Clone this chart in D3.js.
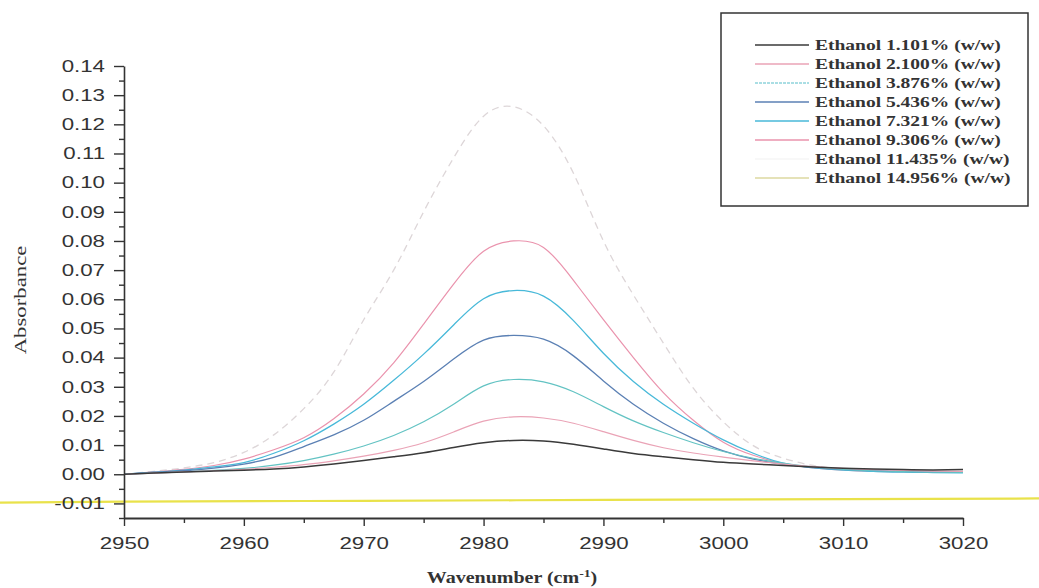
<!DOCTYPE html>
<html><head><meta charset="utf-8">
<script src="https://cdn.jsdelivr.net/npm/d3@7"></script>
<style>
html,body{margin:0;padding:0;background:#fff;}
svg{display:block;}
</style></head>
<body>
<svg id="chart" width="1039" height="588"></svg>
<script>
// ---------- DATA ----------
const wavenumbers = [2950,2952.5,2955,2957.5,2960,2962.5,2965,2967.5,2970,2972.5,2975,2977.5,2980,2982.5,2985,2987.5,2990,2992.5,2995,2997.5,3000,3002.5,3005,3007.5,3010,3012.5,3015,3017.5,3020];
const ethanol1101 = [0.0000,0.0004,0.0008,0.0011,0.0014,0.0018,0.0025,0.0035,0.0047,0.0060,0.0074,0.0092,0.0108,0.0116,0.0114,0.0103,0.0087,0.0071,0.0060,0.0050,0.0041,0.0035,0.0030,0.0025,0.0021,0.0018,0.0016,0.0015,0.0016];
const ethanol2100 = [0.0000,0.0004,0.0008,0.0012,0.0017,0.0024,0.0033,0.0046,0.0062,0.0082,0.0108,0.0145,0.0182,0.0197,0.0193,0.0175,0.0146,0.0116,0.0091,0.0073,0.0059,0.0046,0.0035,0.0026,0.0020,0.0016,0.0013,0.0011,0.0010];
const ethanol3876 = [0.0000,0.0004,0.0008,0.0013,0.0020,0.0031,0.0047,0.0069,0.0097,0.0133,0.0180,0.0240,0.0303,0.0325,0.0317,0.0283,0.0232,0.0183,0.0143,0.0108,0.0078,0.0055,0.0038,0.0025,0.0017,0.0012,0.0009,0.0007,0.0006];
const ethanol5436 = [0.0000,0.0006,0.0012,0.0021,0.0035,0.0058,0.0095,0.0135,0.0185,0.0250,0.0318,0.0395,0.0460,0.0476,0.0463,0.0406,0.0320,0.0240,0.0175,0.0122,0.0080,0.0052,0.0035,0.0024,0.0017,0.0013,0.0010,0.0008,0.0007];
const ethanol7321 = [0.0000,0.0007,0.0014,0.0025,0.0040,0.0072,0.0115,0.0172,0.0240,0.0322,0.0412,0.0512,0.0602,0.0630,0.0611,0.0527,0.0415,0.0318,0.0240,0.0175,0.0118,0.0072,0.0038,0.0022,0.0014,0.0010,0.0007,0.0006,0.0005];
const ethanol9306 = [0.0000,0.0008,0.0017,0.0030,0.0052,0.0084,0.0125,0.0190,0.0275,0.0382,0.0515,0.0652,0.0765,0.0800,0.0778,0.0665,0.0530,0.0400,0.0280,0.0185,0.0110,0.0065,0.0037,0.0022,0.0014,0.0010,0.0008,0.0007,0.0006];
const ethanol11435 = [0.0000,0.0010,0.0022,0.0040,0.0075,0.0135,0.0225,0.0350,0.0530,0.0700,0.0900,0.1085,0.1228,0.1260,0.1195,0.1032,0.0800,0.0615,0.0450,0.0295,0.0180,0.0098,0.0055,0.0030,0.0018,0.0012,0.0010,0.0008,0.0007];
const baselineWavenumbers = [2939.5,2950,2970,2990,3010,3026.5];
const ethanol14956 = [-0.0097,-0.0094,-0.0091,-0.0088,-0.0085,-0.0083];
const seriesLabels = ["Ethanol 1.101% (w/w)","Ethanol 2.100% (w/w)","Ethanol 3.876% (w/w)","Ethanol 5.436% (w/w)","Ethanol 7.321% (w/w)","Ethanol 9.306% (w/w)","Ethanol 11.435% (w/w)","Ethanol 14.956% (w/w)"];
const yTickValues = [-0.01,0.00,0.01,0.02,0.03,0.04,0.05,0.06,0.07,0.08,0.09,0.10,0.11,0.12,0.13,0.14];
const xTickValues = [2950,2960,2970,2980,2990,3000,3010,3020];

// ---------- STYLES ----------
const styles = [
  {color:"#3a3a3a", width:1.5, dash:null, legendColor:"#3a3a3a"},
  {color:"#eaa3b6", width:1.2, dash:null, legendColor:"#eaa3b6"},
  {color:"#63c3c3", width:1.2, dash:null, legendColor:"#8fd3dc"},
  {color:"#5b80b4", width:1.3, dash:null, legendColor:"#5b80b4"},
  {color:"#48b9d9", width:1.3, dash:null, legendColor:"#48b9d9"},
  {color:"#ea93ad", width:1.2, dash:null, legendColor:"#ea93ad"},
  {color:"#ddd6d8", width:1.3, dash:"7,5", legendColor:"#f6f6f6"},
  {color:"#e9e24a", width:2.2, dash:null, legendColor:"#ddd9a0"}
];

const seriesData = [ethanol1101,ethanol2100,ethanol3876,ethanol5436,ethanol7321,ethanol9306,ethanol11435]
  .map(vals => vals.map((v,i)=>({x:wavenumbers[i], y:v})));
const yellowData = ethanol14956.map((v,i)=>({x:baselineWavenumbers[i], y:v}));

// ---------- CHART ----------
const svg = d3.select("#chart");
const x = d3.scaleLinear().domain([2950,3020]).range([124,963]);
const y = d3.scaleLinear().domain([-0.015,0.14]).range([518,66]);
function stretch(sel, f){
  sel.each(function(){
    const w = this.getComputedTextLength();
    d3.select(this).attr("textLength", w*f).attr("lengthAdjust","spacingAndGlyphs");
  });
}

const line = d3.line().x(d=>x(d.x)).y(d=>y(d.y)).curve(d3.curveNatural);

svg.append("path").datum(yellowData)
  .attr("d", line).attr("fill","none")
  .attr("stroke", styles[7].color).attr("stroke-width", styles[7].width);

const order = [6,5,4,3,2,1,0];
order.forEach(i=>{
  const s = styles[i];
  const p = svg.append("path").datum(seriesData[i])
    .attr("d", line).attr("fill","none")
    .attr("stroke", s.color).attr("stroke-width", s.width)
    .attr("stroke-linejoin","round");
  if (s.dash) p.attr("stroke-dasharray", s.dash);
});

// ---------- AXES ----------
const axisColor = "#333";
const fmt = d => (d<0?"-":"") + Math.abs(d).toFixed(2);

const yMinor = d3.range(-0.015, 0.1401, 0.005).map(v=>+v.toFixed(3)).filter(v=>!yTickValues.some(t=>Math.abs(t-v)<1e-6));
svg.append("g").attr("transform","translate(124,0)")
  .call(d3.axisLeft(y).tickValues(yMinor).tickSize(5).tickSizeOuter(0).tickFormat(""))
  .call(g=>g.select(".domain").remove())
  .call(g=>g.selectAll("line").attr("stroke",axisColor).attr("stroke-width",1.4));

const yAxisG = svg.append("g").attr("transform","translate(124,0)")
  .call(d3.axisLeft(y).tickValues(yTickValues).tickSize(10).tickSizeOuter(0).tickPadding(9).tickFormat(fmt));
yAxisG.select(".domain").attr("stroke",axisColor).attr("stroke-width",1.6);
yAxisG.selectAll("line").attr("stroke",axisColor).attr("stroke-width",1.4);
yAxisG.selectAll("text").attr("font-family","'Liberation Sans', Arial, sans-serif")
  .attr("font-size",16.5).attr("fill","#333");
stretch(yAxisG.selectAll("text"), 1.35);

const xMinor = d3.range(2955, 3020, 10);
svg.append("g").attr("transform","translate(0,518)")
  .call(d3.axisBottom(x).tickValues(xMinor).tickSize(5).tickSizeOuter(0).tickFormat(""))
  .call(g=>g.select(".domain").remove())
  .call(g=>g.selectAll("line").attr("stroke",axisColor).attr("stroke-width",1.4));

const xAxisG = svg.append("g").attr("transform","translate(0,518)")
  .call(d3.axisBottom(x).tickValues(xTickValues).tickSize(8).tickSizeOuter(0).tickPadding(11).tickFormat(d3.format("d")));
xAxisG.select(".domain").attr("stroke",axisColor).attr("stroke-width",1.8);
xAxisG.selectAll("line").attr("stroke",axisColor).attr("stroke-width",1.4);
xAxisG.selectAll("text").attr("font-family","'Liberation Sans', Arial, sans-serif")
  .attr("font-size",16.5).attr("fill","#333");
stretch(xAxisG.selectAll("text"), 1.35);

const yTitle = svg.append("text")
  .attr("transform","translate(26,300) rotate(-90)")
  .attr("text-anchor","middle")
  .attr("font-family","'Liberation Serif', 'Times New Roman', serif")
  .attr("font-size",17.5).attr("fill","#333")
  .text("Absorbance");
stretch(yTitle, 1.3);

const xTitleG = svg.append("g").attr("transform","translate(512,583) scale(1.25,1)");
const xTitle = xTitleG.append("text")
  .attr("text-anchor","middle")
  .attr("font-family","'Liberation Serif', 'Times New Roman', serif")
  .attr("font-weight","bold")
  .attr("font-size",16).attr("fill","#333");
xTitle.append("tspan").text("Wavenumber (cm");
xTitle.append("tspan").attr("dy",-6).attr("font-size",11).text("-1");
xTitle.append("tspan").attr("dy",6).text(")");

// ---------- LEGEND ----------
const legend = svg.append("g");
legend.append("rect").attr("x",721).attr("y",13).attr("width",307).attr("height",193)
  .attr("fill","#fff").attr("stroke","#333").attr("stroke-width",1.5);
seriesLabels.forEach((lab,i)=>{
  const cy = 45 + i*19;
  const s = styles[i];
  const l = legend.append("line").attr("x1",755).attr("x2",809).attr("y1",cy).attr("y2",cy)
    .attr("stroke", s.legendColor).attr("stroke-width", 1.3);
  if (i===2) l.attr("stroke-dasharray","3,1");
  const t = legend.append("text").attr("x",815).attr("y",cy).attr("dy","0.35em")
    .attr("font-family","'Liberation Serif', 'Times New Roman', serif")
    .attr("font-weight","bold").attr("font-size",15).attr("fill","#333")
    .text(lab);
  stretch(t, 1.3);
});
</script>
</body></html>
